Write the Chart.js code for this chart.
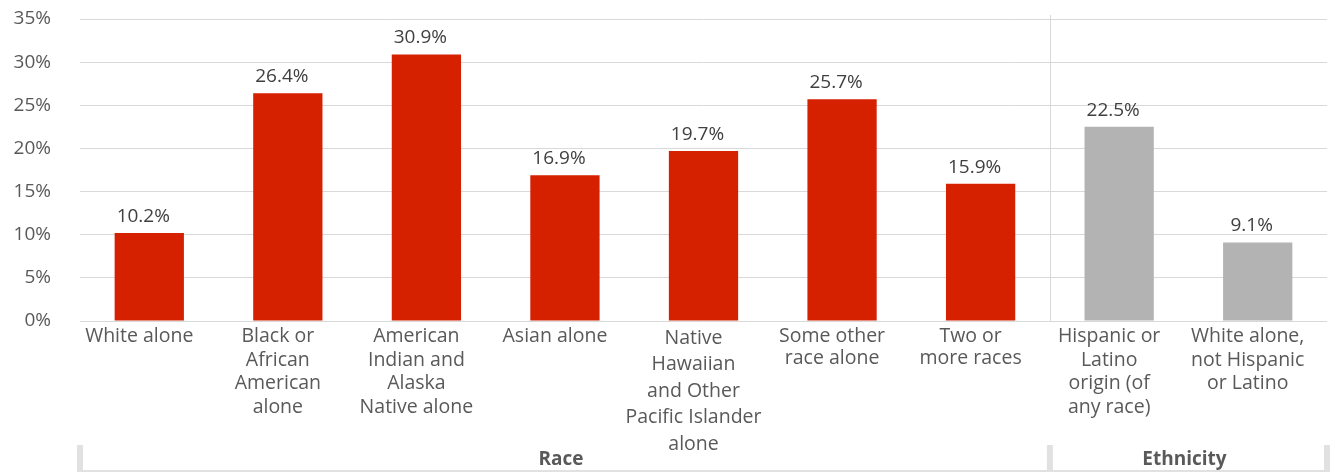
<!DOCTYPE html>
<html>
<head>
<meta charset="utf-8">
<script src="https://cdn.jsdelivr.net/npm/chart.js@4"></script>
<style>
  html, body { margin: 0; padding: 0; background: #fff; }
  #wrap { width: 1335px; height: 472px; position: relative; }
</style>
</head>
<body>
<div id="wrap"><canvas id="chart"></canvas></div>
<script>
const categories = [
  ['White alone'],
  ['Black or', 'African', 'American', 'alone'],
  ['American', 'Indian and', 'Alaska', 'Native alone'],
  ['Asian alone'],
  ['Native', 'Hawaiian', 'and Other', 'Pacific Islander', 'alone'],
  ['Some other', 'race alone'],
  ['Two or', 'more races'],
  ['Hispanic or', 'Latino', 'origin (of', 'any race)'],
  ['White alone,', 'not Hispanic', 'or Latino']
];
const values = [10.2, 26.4, 30.9, 16.9, 19.7, 25.7, 15.9, 22.5, 9.1];
const groupNames = ['Race', 'Ethnicity'];
const groupSizes = [7, 2];
const yTicks = [0, 5, 10, 15, 20, 25, 30, 35];

const RED = '#d62100';
const GREY = '#b3b3b3';
const FONT = "'Open Sans', sans-serif";

// colour per bar: race groups red, ethnicity grey
const barColors = [];
groupSizes.forEach((n, g) => {
  for (let i = 0; i < n; i++) barColors.push(g === 0 ? RED : GREY);
});

// value labels above the bars (sit a little left of centre, as in the original)
const valueLabels = {
  id: 'valueLabels',
  afterDatasetsDraw(chart) {
    const ctx = chart.ctx;
    const meta = chart.getDatasetMeta(0);
    ctx.save();
    ctx.font = '19px ' + FONT;
    ctx.fillStyle = '#404040';
    ctx.textAlign = 'center';
    ctx.textBaseline = 'alphabetic';
    meta.data.forEach((bar, i) => {
      ctx.fillText(values[i].toFixed(1) + '%', bar.x - 6, bar.y - 11);
    });
    ctx.restore();
  }
};

// group separator line and the Race / Ethnicity band at the bottom
const groupBand = {
  id: 'groupBand',
  afterDraw(chart) {
    const ctx = chart.ctx;
    const x = chart.scales.x;
    const area = chart.chartArea;
    const h = chart.height;

    // boundaries between groups
    const edges = [area.left];
    let idx = 0;
    groupSizes.forEach((n, g) => {
      idx += n;
      if (g < groupSizes.length - 1) {
        edges.push((x.getPixelForValue(idx - 1) + x.getPixelForValue(idx)) / 2);
      }
    });
    edges.push(area.right);

    ctx.save();
    // thin vertical divider inside the plot
    ctx.strokeStyle = '#d9d9d9';
    ctx.lineWidth = 1;
    for (let i = 1; i < edges.length - 1; i++) {
      ctx.beginPath();
      ctx.moveTo(Math.round(edges[i]) + 0.5, area.top - 4);
      ctx.lineTo(Math.round(edges[i]) + 0.5, area.bottom);
      ctx.stroke();
    }

    // band
    ctx.fillStyle = '#e1e1e1';
    ctx.fillRect(edges[0] - 3, h - 2, edges[edges.length - 1] - edges[0] + 6, 2);
    edges.forEach(e => ctx.fillRect(e - 3, h - 27, 6, 27));

    ctx.font = 'bold 19px ' + FONT;
    ctx.fillStyle = '#595959';
    ctx.textAlign = 'center';
    ctx.textBaseline = 'alphabetic';
    groupNames.forEach((name, g) => {
      ctx.fillText(name, (edges[g] + edges[g + 1]) / 2 - 4, h - 7);
    });
    ctx.restore();
  }
};

// line spacing in the reference grows with the number of lines
function tickFont(c) {
  const n = categories[c.index] ? categories[c.index].length : 1;
  const spacing = n >= 5 ? 26.5 : n >= 3 ? 23.5 : 22;
  return { family: FONT, size: 19.5, lineHeight: spacing / 19.5 };
}

new Chart(document.getElementById('chart'), {
  type: 'bar',
  data: {
    labels: categories,
    datasets: [{
      data: values,
      backgroundColor: barColors,
      barPercentage: 0.5,
      categoryPercentage: 1.0
    }]
  },
  options: {
    responsive: true,
    maintainAspectRatio: false,
    animation: false,
    layout: { padding: { left: 0, right: 8, top: 0, bottom: 0 } },
    plugins: {
      legend: { display: false },
      tooltip: { enabled: false }
    },
    scales: {
      x: {
        grid: { display: false },
        border: { display: false },
        ticks: {
          color: '#595959',
          font: tickFont,
          maxRotation: 0,
          autoSkip: false,
          padding: -4,
          labelOffset: -10
        },
        afterFit(scale) { scale.height = 151; }
      },
      y: {
        min: 0,
        max: 35,
        afterBuildTicks(scale) {
          scale.ticks = yTicks.map(v => ({ value: v }));
        },
        grid: { color: '#d9d9d9', lineWidth: 1, drawTicks: false },
        border: { display: false },
        ticks: {
          color: '#595959',
          font: { family: FONT, size: 19 },
          padding: 29,
          callback: v => v + '%'
        },
        afterFit(scale) {
          scale.width = 80;
          scale.paddingTop = 19;
          scale.paddingBottom = 0;
        }
      }
    }
  },
  plugins: [valueLabels, groupBand]
});
</script>
</body>
</html>
